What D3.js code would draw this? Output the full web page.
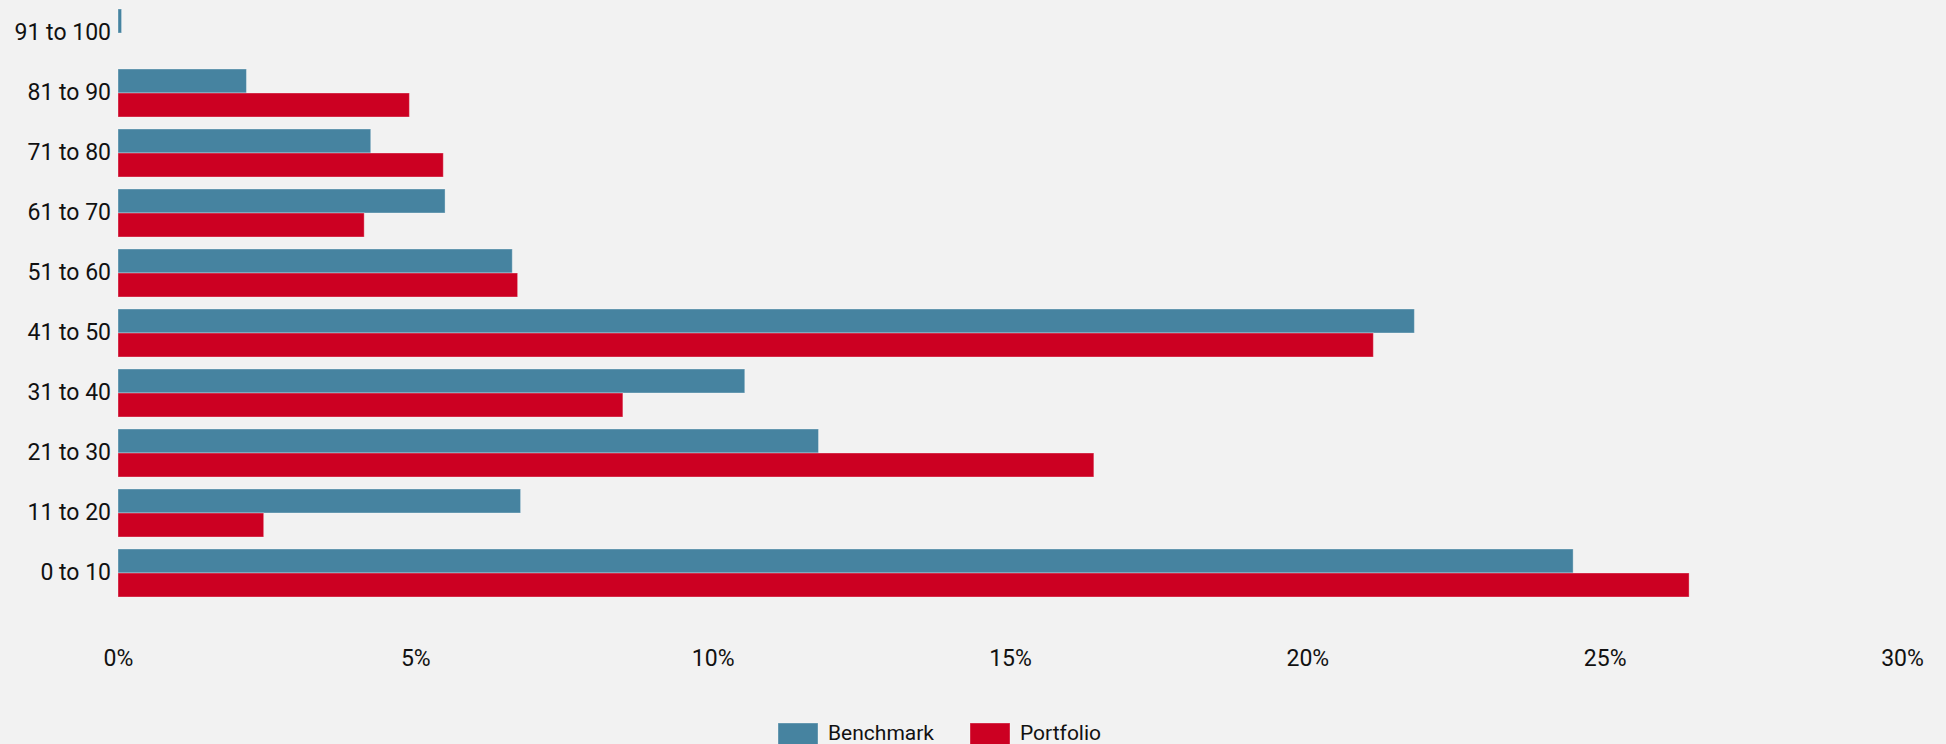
<!DOCTYPE html>
<html>
<head>
<meta charset="utf-8">
<script src="https://cdn.jsdelivr.net/npm/d3@7"></script>
<style>
    html, body { margin: 0; padding: 0; background: #f2f2f2; }
    svg { display: block; font-family: Roboto, "Noto Sans", sans-serif; }
</style>
</head>
<body>
<svg id="chart" width="1946" height="744"></svg>
<script>
// Buckets, top to bottom as drawn
const categories = ["91 to 100", "81 to 90", "71 to 80", "61 to 70", "51 to 60",
                    "41 to 50", "31 to 40", "21 to 30", "11 to 20", "0 to 10"]
const seriesNames = ["Benchmark", "Portfolio"]
const benchmark = [0.06, 2.16, 4.25, 5.50, 6.63, 21.80, 10.54, 11.78, 6.77, 24.47]
const portfolio = [0.00, 4.90, 5.47, 4.14, 6.72, 21.11, 8.49, 16.41, 2.45, 26.42]
const xTicks = [0, 5, 10, 15, 20, 25, 30]
const colors = ["#4683a0", "#cc0022"]

const svg = d3.select("#chart")

const x = d3.scaleLinear().domain([0, 30]).range([118, 1902])
const y = d3.scaleBand().domain(categories).range([3, 603])
    .paddingInner(0.2).paddingOuter(0.1)
const ySub = d3.scaleBand().domain(seriesNames).range([0, y.bandwidth()])
const color = d3.scaleOrdinal().domain(seriesNames).range(colors)

const rows = categories.map((c, i) => ({ cat: c, values: [benchmark[i], portfolio[i]] }))

// bars
const group = svg.append("g").selectAll("g").data(rows).join("g")
    .attr("transform", d => `translate(0,${y(d.cat)})`)
group.selectAll("rect")
    .data(d => d.values.map((v, i) => ({ name: seriesNames[i], value: v })))
    .join("rect")
    .attr("x", x(0))
    .attr("y", d => ySub(d.name))
    .attr("width", d => x(d.value) - x(0))
    .attr("height", ySub.bandwidth())
    .attr("fill", d => color(d.name))
    .attr("stroke", "rgba(255,255,255,0.35)")
    .attr("stroke-width", d => d.value > 0 ? 1 : 0)

// y axis labels
const yAxis = svg.append("g")
    .attr("transform", `translate(${x(0)},0)`)
    .call(d3.axisLeft(y).tickSize(0).tickPadding(7))
yAxis.select(".domain").remove()
yAxis.selectAll("text").attr("font-size", 23).attr("fill", "#111")
    .attr("font-family", "Roboto, sans-serif")

// x axis labels
const xAxis = svg.append("g")
    .attr("transform", "translate(0,603)")
    .call(d3.axisBottom(x).tickValues(xTicks).tickFormat(d => d + "%").tickSize(0).tickPadding(47))
xAxis.select(".domain").remove()
xAxis.selectAll("text").attr("font-size", 23).attr("fill", "#111")
    .attr("font-family", "Roboto, sans-serif")

// legend
const legend = svg.append("g").attr("transform", "translate(778,723)")
const item = legend.selectAll("g").data(seriesNames).join("g")
    .attr("transform", (d, i) => `translate(${i * 192},0)`)
item.append("rect")
    .attr("width", 40).attr("height", 22)
    .attr("fill", d => color(d))
    .attr("stroke", "rgba(255,255,255,0.35)")
item.append("text")
    .attr("x", 50).attr("y", 17)
    .attr("font-size", 21).attr("fill", "#111")
    .text(d => d)
</script>
</body>
</html>
